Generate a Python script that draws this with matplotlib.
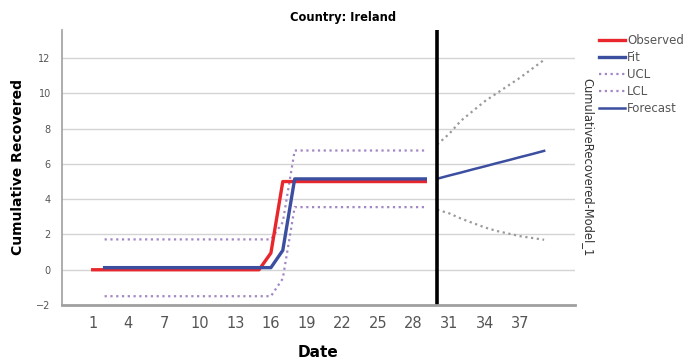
import matplotlib

matplotlib.use("Agg")

import matplotlib.pyplot as plt
from matplotlib.lines import Line2D

# observed cumulative recovered, days 1..29
obs_days = list(range(1, 30))
observed = [0] * 15 + [0.95] + [5.0] * 13

# model fit, days 2..29
fit_days = list(range(2, 30))
fit = [0.12] * 15 + [1.1] + [5.15] * 12
ucl = [1.72] * 15 + [2.7] + [6.76] * 12
lcl = [-1.5] * 15 + [-0.5] + [3.55] * 12

# forecast, days 30..39
fc_days = list(range(30, 40))
forecast = [5.16, 5.34, 5.51, 5.69, 5.86, 6.04, 6.21, 6.39, 6.56, 6.74]
fc_ucl = [7.1, 7.7, 8.45, 9.0, 9.55, 10.0, 10.45, 10.9, 11.4, 11.9]
fc_lcl = [3.4, 3.2, 2.9, 2.65, 2.4, 2.2, 2.05, 1.9, 1.8, 1.7]

forecast_start = 30
x_ticks = list(range(1, 40, 3))
y_ticks = list(range(-2, 13, 2))

RED = "#e8262b"
BLUE = "#3b4ea0"
PURPLE = "#a386c4"
GREY_DOT = "#9a9a9a"
TXT = "#555555"
DOTS = (0, (1, 1.6))

fig = plt.figure(figsize=(6.87, 3.64), dpi=100)
ax = fig.add_axes([0.090, 0.162, 0.747, 0.756])

ax.plot(fit_days, ucl, color=PURPLE, linestyle=DOTS, linewidth=1.6)
ax.plot(fit_days, lcl, color=PURPLE, linestyle=DOTS, linewidth=1.6)
ax.plot(obs_days, observed, color=RED, linewidth=2.4)
ax.plot(fit_days, fit, color=BLUE, linewidth=2.4)
ax.plot(fc_days, fc_ucl, color=GREY_DOT, linestyle=DOTS, linewidth=1.6)
ax.plot(fc_days, fc_lcl, color=GREY_DOT, linestyle=DOTS, linewidth=1.6)
ax.plot(fc_days, forecast, color=BLUE, linewidth=1.8)
ax.axvline(forecast_start, color="black", linewidth=2.6)

ax.set_xlim(-1.6, 41.6)
ax.set_ylim(-2, 13.6)
ax.set_xticks(x_ticks)
ax.set_yticks(y_ticks)
ax.tick_params(axis="x", length=0, labelsize=10.5, colors=TXT, pad=8)
ax.tick_params(axis="y", length=0, labelsize=7, colors=TXT, pad=8)
ax.grid(True, axis="y", color="#d4d4d4", linewidth=1.0)
ax.set_axisbelow(True)
for side in ("top", "right"):
    ax.spines[side].set_visible(False)
ax.spines["left"].set_color("#a0a0a0")
ax.spines["left"].set_linewidth(1.2)
ax.spines["bottom"].set_color("#a0a0a0")
ax.spines["bottom"].set_linewidth(2.0)

fig.text(0.5, 0.953, "Country: Ireland", ha="center", va="center",
         fontsize=8.3, fontweight="bold")
ax.set_xlabel("Date", fontsize=11, fontweight="bold", labelpad=10)
ax.set_ylabel("Cumulative Recovered", fontsize=10, fontweight="bold")
ax.yaxis.set_label_coords(-0.072, 0.5)

fig.text(0.856, 0.541, "CumulativeRecovered-Model_1", rotation=-90,
         ha="center", va="center", fontsize=8.3, color="#333333")

handles = [
    Line2D([], [], color=RED, linewidth=2.4),
    Line2D([], [], color=BLUE, linewidth=2.4),
    Line2D([], [], color=PURPLE, linestyle=DOTS, linewidth=1.6),
    Line2D([], [], color=PURPLE, linestyle=DOTS, linewidth=1.6),
    Line2D([], [], color=BLUE, linewidth=1.8),
]
labels = ["Observed", "Fit", "UCL", "LCL", "Forecast"]
leg = fig.legend(handles, labels, loc="upper left", bbox_to_anchor=(0.865, 0.92),
                 frameon=False, fontsize=8.5, handlelength=2.2, handletextpad=0.2,
                 labelspacing=0.35, borderaxespad=0)
for t in leg.get_texts():
    t.set_color(TXT)

fig.savefig("out.png", dpi=100)
